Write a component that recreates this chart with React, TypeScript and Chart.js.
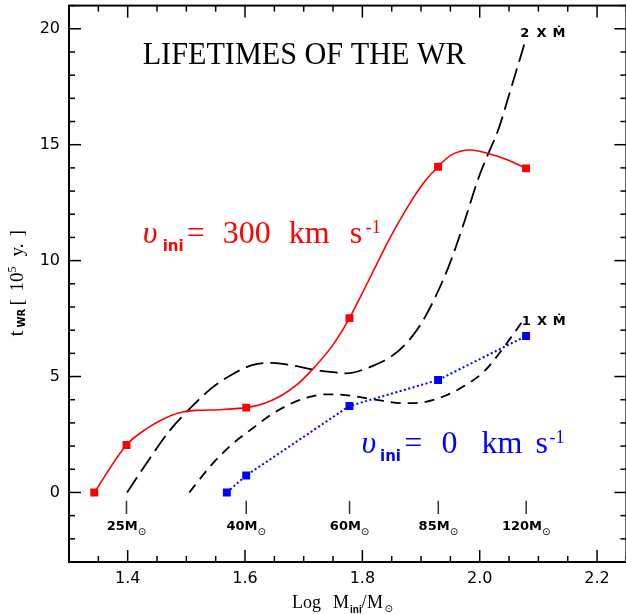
import React, { useEffect, useRef } from "react";
import { Chart, registerables } from "chart.js";
Chart.register(...registerables);

// ---- data ----
const massTicks = [25, 40, 60, 85, 120];
const massTickLabels = ["25M", "40M", "60M", "85M", "120M"];

const redMarkX = [1.343, 1.398, 1.602, 1.778, 1.929, 2.079];
const redMarkY = [0, 2.05, 3.66, 7.52, 14.05, 13.98];

const blueMarkX = [1.569, 1.602, 1.778, 1.929, 2.079];
const blueMarkY = [0, 0.73, 3.73, 4.85, 6.75];

const redCurveX = [1.343, 1.398, 1.431, 1.46, 1.488, 1.516, 1.556, 1.602, 1.63, 1.66, 1.69, 1.711, 1.748, 1.778, 1.81, 1.844, 1.878, 1.906, 1.929, 1.951, 1.985, 2.014, 2.048, 2.079];
const redCurveY = [0, 2.05, 2.73, 3.16, 3.44, 3.54, 3.57, 3.66, 3.82, 4.15, 4.68, 5.2, 6.3, 7.52, 9.11, 10.83, 12.35, 13.4, 14.05, 14.55, 14.77, 14.62, 14.34, 13.98];

const twoMdotX = [1.399, 1.431, 1.471, 1.505, 1.544, 1.578, 1.612, 1.646, 1.68, 1.714, 1.745, 1.773, 1.81, 1.85, 1.878, 1.906, 1.946, 1.974, 1.997, 2.016, 2.031, 2.053, 2.078];
const twoMdotY = [0, 1.22, 2.65, 3.59, 4.52, 5.09, 5.49, 5.59, 5.48, 5.31, 5.2, 5.14, 5.38, 5.88, 6.52, 7.53, 9.68, 11.69, 13.5, 14.7, 15.6, 17.4, 19.5];

const oneMdotX = [1.505, 1.544, 1.578, 1.612, 1.646, 1.68, 1.71, 1.737, 1.771, 1.822, 1.872, 1.906, 1.94, 1.974, 2.008, 2.036, 2.072];
const oneMdotY = [0, 1.22, 2.08, 2.75, 3.38, 3.85, 4.12, 4.23, 4.2, 4.0, 3.85, 3.9, 4.16, 4.6, 5.23, 6.09, 7.35];

const xRange = [1.3, 2.25];
const yRange = [-3, 21];

const toPts = (xs: number[], ys: number[]) => xs.map((x, i) => ({ x, y: ys[i] }));

type Piece = { t: string; dx: number; dy: number; font: string };

function drawPieces(ctx: CanvasRenderingContext2D, x0: number, y0: number, pieces: Piece[], color: string) {
  ctx.save();
  ctx.fillStyle = color;
  ctx.textAlign = "left";
  ctx.textBaseline = "alphabetic";
  for (const p of pieces) {
    ctx.font = p.font;
    ctx.fillText(p.t, x0 + p.dx, y0 + p.dy);
  }
  ctx.restore();
}

const SERIF = '"Liberation Serif", serif';
const BIG = `32px ${SERIF}`;
const ITAL = `italic 32px ${SERIF}`;
const SUBB = 'bold 15px "DejaVu Sans"';
const SUP = `18px ${SERIF}`;

const framePlugin = {
  id: "frameAndNotes",
  afterDraw(chart: any) {
    const { ctx, chartArea: a, scales } = chart;
    const xs = scales.x;
    const ys = scales.y;
    ctx.save();
    // frame
    ctx.strokeStyle = "#000";
    ctx.lineWidth = 2;
    ctx.strokeRect(a.left, a.top, a.right - a.left, a.bottom - a.top);
    // ticks
    ctx.lineWidth = 1.5;
    const seg = (x1: number, y1: number, x2: number, y2: number) => {
      ctx.beginPath();
      ctx.moveTo(x1, y1);
      ctx.lineTo(x2, y2);
      ctx.stroke();
    };
    for (let k = Math.ceil(xs.min / 0.05 - 1e-6); k * 0.05 <= xs.max + 1e-9; k++) {
      const v = k * 0.05;
      const major = Math.abs(v / 0.2 - Math.round(v / 0.2)) < 1e-6;
      const len = major ? 12 : 6;
      const px = xs.getPixelForValue(v);
      seg(px, a.bottom, px, a.bottom - len);
      seg(px, a.top, px, a.top + len);
    }
    for (let k = Math.ceil(ys.min); k <= ys.max; k++) {
      const major = k % 5 === 0;
      const len = major ? 12 : 6;
      const py = ys.getPixelForValue(k);
      seg(a.left, py, a.left + len, py);
      seg(a.right, py, a.right - len, py);
    }

    // mass ticks + labels
    ctx.strokeStyle = "#333";
    ctx.lineWidth = 1.5;
    massTicks.forEach((m, i) => {
      const px = xs.getPixelForValue(Math.log10(m));
      seg(px, ys.getPixelForValue(-0.36), px, ys.getPixelForValue(-0.93));
      ctx.font = 'bold 13px "DejaVu Sans"';
      const w1 = ctx.measureText(massTickLabels[i]).width;
      ctx.font = '10px "DejaVu Sans"';
      const w2 = ctx.measureText("\u2299").width;
      const sx = px - (w1 + w2) / 2;
      const by = ys.getPixelForValue(-1.62);
      drawPieces(ctx, sx, by, [
        { t: massTickLabels[i], dx: 0, dy: 0, font: 'bold 13px "DejaVu Sans"' },
        { t: "\u2299", dx: w1, dy: 5, font: '10px "DejaVu Sans"' },
      ], "#000");
    });

    // title
    {
      const tx = xs.getPixelForValue(1.4255);
      const ty = ys.getPixelForValue(18.49);
      ctx.font = `31px ${SERIF}`;
      const txt = "LIFETIMES OF THE WR";
      const w = ctx.measureText(txt).width;
      ctx.save();
      ctx.translate(tx, ty);
      ctx.scale(323 / w, 1);
      ctx.fillStyle = "#000";
      ctx.textAlign = "left";
      ctx.textBaseline = "alphabetic";
      ctx.fillText(txt, 0, 0);
      ctx.restore();
    }

    // Mdot labels
    const MF = 'bold 13px "DejaVu Sans"';
    drawPieces(ctx, xs.getPixelForValue(2.069), ys.getPixelForValue(19.64), [
      { t: "2", dx: 0, dy: 0, font: MF },
      { t: "X", dx: 16.3, dy: 0, font: MF },
      { t: "\u1E40", dx: 32.3, dy: 0, font: MF },
    ], "#000");
    drawPieces(ctx, xs.getPixelForValue(2.0715), ys.getPixelForValue(7.24), [
      { t: "1", dx: 0, dy: 0, font: MF },
      { t: "X", dx: 15.3, dy: 0, font: MF },
      { t: "\u1E40", dx: 31, dy: 0, font: MF },
    ], "#000");

    // velocity labels
    drawPieces(ctx, xs.getPixelForValue(1.4255), ys.getPixelForValue(10.75), [
      { t: "\u03C5", dx: 0, dy: 0, font: ITAL },
      { t: "ini", dx: 20, dy: 8, font: SUBB },
      { t: "=", dx: 44, dy: 0, font: BIG },
      { t: "300", dx: 80, dy: 0, font: BIG },
      { t: "km", dx: 146, dy: 0, font: BIG },
      { t: "s", dx: 207, dy: 0, font: BIG },
      { t: "-1", dx: 223, dy: -10, font: SUP },
    ], "#ff0000");
    drawPieces(ctx, xs.getPixelForValue(1.7987), ys.getPixelForValue(1.72), [
      { t: "\u03C5", dx: 0, dy: 0, font: ITAL },
      { t: "ini", dx: 18.4, dy: 8, font: SUBB },
      { t: "=", dx: 42.7, dy: 0, font: BIG },
      { t: "0", dx: 80, dy: 0, font: BIG },
      { t: "km", dx: 120, dy: 0, font: BIG },
      { t: "s", dx: 174, dy: 0, font: BIG },
      { t: "-1", dx: 188, dy: -10, font: SUP },
    ], "#0000ff");

    // x axis title
    const TF = `18px ${SERIF}`;
    drawPieces(ctx, a.left + 223, a.bottom + 45.7, [
      { t: "Log", dx: 0, dy: 0, font: TF },
      { t: "M", dx: 41, dy: 0, font: TF },
      { t: "ini", dx: 58, dy: 5, font: 'bold 10px "Liberation Sans"' },
      { t: "/", dx: 69.4, dy: 0, font: TF },
      { t: "M", dx: 75, dy: 0, font: TF },
      { t: "\u2299", dx: 92.5, dy: 4, font: '10px "DejaVu Sans"' },
    ], "#000");

    // y axis title (rotated)
    ctx.save();
    ctx.translate(a.left - 46, a.top + 332);
    ctx.rotate(-Math.PI / 2);
    const YF = `19px ${SERIF}`;
    drawPieces(ctx, 0, 0, [
      { t: "t", dx: 1, dy: 0, font: `21px ${SERIF}` },
      { t: "WR", dx: 10, dy: 2, font: 'bold 10px "DejaVu Sans"' },
      { t: "[", dx: 32, dy: 0, font: YF },
      { t: "10", dx: 46, dy: 0, font: YF },
      { t: "5", dx: 65, dy: -7, font: `12px ${SERIF}` },
      { t: "y.", dx: 81, dy: 0, font: YF },
      { t: "]", dx: 101, dy: 0, font: YF },
    ], "#000");
    ctx.restore();

    ctx.restore();
  },
};

export default function App() {
  const ref = useRef<HTMLCanvasElement | null>(null);
  useEffect(() => {
    if (!ref.current) return;
    const chart = new Chart(ref.current, {
      type: "scatter",
      data: {
        datasets: [
          {
            data: toPts(redMarkX, redMarkY),
            showLine: false,
            pointStyle: "rect",
            pointRadius: 5.6,
            backgroundColor: "#ff0000",
            borderColor: "#ff0000",
            borderWidth: 0,
          },
          {
            data: toPts(blueMarkX, blueMarkY),
            showLine: true,
            pointStyle: "rect",
            pointRadius: 5.6,
            pointBorderWidth: 0,
            backgroundColor: "#0000ff",
            borderColor: "#0000ff",
            borderWidth: 2,
            borderDash: [2, 2.5],
            tension: 0,
          },
          {
            data: toPts(redCurveX, redCurveY),
            showLine: true,
            pointRadius: 0,
            borderColor: "#ff0000",
            borderWidth: 1.6,
            cubicInterpolationMode: "monotone",
          },
          {
            data: toPts(twoMdotX, twoMdotY),
            showLine: true,
            pointRadius: 0,
            borderColor: "#000",
            borderWidth: 1.8,
            borderDash: [18, 7],
            cubicInterpolationMode: "monotone",
          },
          {
            data: toPts(oneMdotX, oneMdotY),
            showLine: true,
            pointRadius: 0,
            borderColor: "#000",
            borderWidth: 1.8,
            borderDash: [10, 7],
            cubicInterpolationMode: "monotone",
          },
        ],
      },
      options: {
        animation: false,
        responsive: false,
        devicePixelRatio: 1,
        layout: { padding: { left: 0, right: 3, top: 4, bottom: 0 } },
        plugins: { legend: { display: false }, tooltip: { enabled: false } },
        scales: {
          x: {
            type: "linear",
            min: xRange[0],
            max: xRange[1],
            grid: { display: false, drawTicks: false },
            border: { display: false },
            ticks: {
              stepSize: 0.2,
              includeBounds: false,
              padding: 7,
              color: "#000",
              font: { family: "DejaVu Sans", size: 16 },
            },
            afterFit: (s: any) => {
              s.height = 52;
              s.paddingLeft = 0;
              s.paddingRight = 0;
            },
          },
          y: {
            type: "linear",
            min: yRange[0],
            max: yRange[1],
            grid: { display: false, drawTicks: false },
            border: { display: false },
            ticks: {
              stepSize: 5,
              includeBounds: false,
              padding: 9,
              color: "#000",
              font: { family: "DejaVu Sans", size: 16 },
            },
            afterFit: (s: any) => {
              s.width = 69;
              s.paddingTop = 0;
              s.paddingBottom = 0;
            },
          },
        },
      },
      plugins: [framePlugin],
    });
    return () => chart.destroy();
  }, []);
  return (
    <div style={{ position: "absolute", left: 0, top: 0, width: 626, height: 614, overflow: "hidden", background: "#fff" }}>
      <canvas ref={ref} width={632} height={614} style={{ width: 632, height: 614, display: "block" }} />
    </div>
  );
}
